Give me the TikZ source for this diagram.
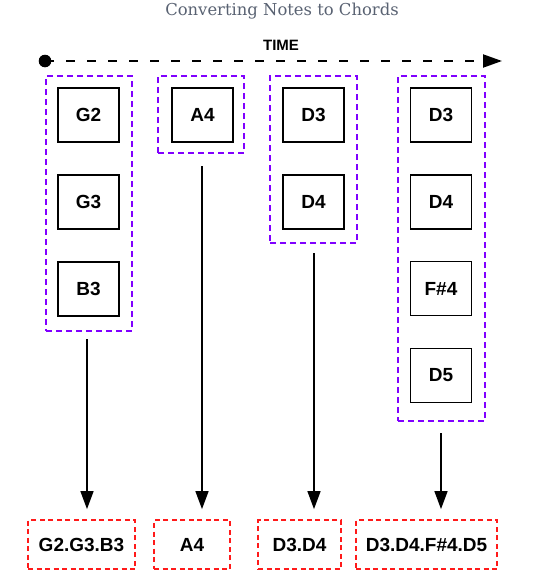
\documentclass[tikz,border=0pt]{standalone}
\usepackage{fontspec}
\usetikzlibrary{arrows.meta}
\newfontfamily\arialf{Liberation Sans}
\newfontfamily\titlef{DejaVu Serif}
\definecolor{purp}{HTML}{8000FF}
\definecolor{redd}{HTML}{FF1A1A}
\definecolor{titlegray}{HTML}{596272}
\begin{document}
\begin{tikzpicture}[x=1pt,y=1pt,
  note/.style={draw=black, line width=1.6pt, minimum width=61pt, minimum height=54pt, inner sep=0pt, font=\arialf\bfseries\fontsize{19}{19}\selectfont},
  grp/.style={draw=purp, line width=2pt, dash pattern=on 6pt off 4pt, inner sep=0pt},
  chord/.style={draw=redd, line width=1.8pt, dash pattern=on 5pt off 3.5pt, minimum height=49pt, inner sep=0pt, font=\arialf\bfseries\fontsize{19}{19}\selectfont},
  arr/.style={line width=1.5pt, -{Triangle[length=18pt,width=13pt]}}
]
\useasboundingbox (0,0) rectangle (548,-581);
\node[text=titlegray, font=\titlef\fontsize{16.4}{16.4}\selectfont] (title) at (282,-11) {Converting Notes to Chords};
\node[font=\arialf\bfseries\fontsize{15}{15}\selectfont] (time) at (281,-45) {TIME};
% timeline
\coordinate (t0) at (45,-61);
\coordinate (t1) at (502,-61);
\fill (t0) circle (6.3pt);
\draw[line width=2pt, dash pattern=on 9pt off 12pt, -{Triangle[length=19pt,width=13pt]}] (t0) -- (t1);
% groups
\node[grp, minimum width=86pt, minimum height=255pt] (p1) at (89,-203.5) {};
\node[grp, minimum width=86pt, minimum height=77pt] (p2) at (201,-114.5) {};
\node[grp, minimum width=87pt, minimum height=167pt] (p3) at (313.5,-159.5) {};
\node[grp, minimum width=87pt, minimum height=345pt] (p4) at (441.5,-248.5) {};
% notes
\node[note] (g2) at (88.5,-115) {G2};
\node[note] (g3) at (88.5,-202) {G3};
\node[note] (b3) at (88.5,-289) {B3};
\node[note] (a4) at (202.5,-115) {A4};
\node[note] (d3a) at (313.5,-115) {D3};
\node[note] (d4a) at (313.5,-202) {D4};
\node[note] (d3b) at (441,-115) {D3};
\node[note] (d4b) at (441,-202) {D4};
\node[note] (f4) at (441,-288.5) {F\#4};
\node[note] (d5) at (441,-375.5) {D5};
% chords
\node[chord, minimum width=107pt] (r1) at (81.5,-544.5) {G2.G3.B3};
\node[chord, minimum width=76pt] (r2) at (192,-544.5) {A4};
\node[chord, minimum width=83pt] (r3) at (299.5,-544.5) {D3.D4};
\node[chord, minimum width=141pt] (r4) at (426.5,-544.5) {D3.D4.F\#4.D5};
% arrows
\draw[arr, shorten >=10pt] ([xshift=-2pt,yshift=-7pt]p1.south) -- ([xshift=-2pt]p1.south |- r1.north);
\draw[arr, shorten >=10pt] ([xshift=1pt,yshift=-12pt]p2.south) -- ([xshift=1pt]p2.south |- r2.north);
\draw[arr, shorten >=10pt] ([xshift=0.5pt,yshift=-9pt]p3.south) -- ([xshift=0.5pt]p3.south |- r3.north);
\draw[arr, shorten >=10pt] ([xshift=-0.5pt,yshift=-11pt]p4.south) -- ([xshift=-0.5pt]p4.south |- r4.north);
\end{tikzpicture}
\end{document}
